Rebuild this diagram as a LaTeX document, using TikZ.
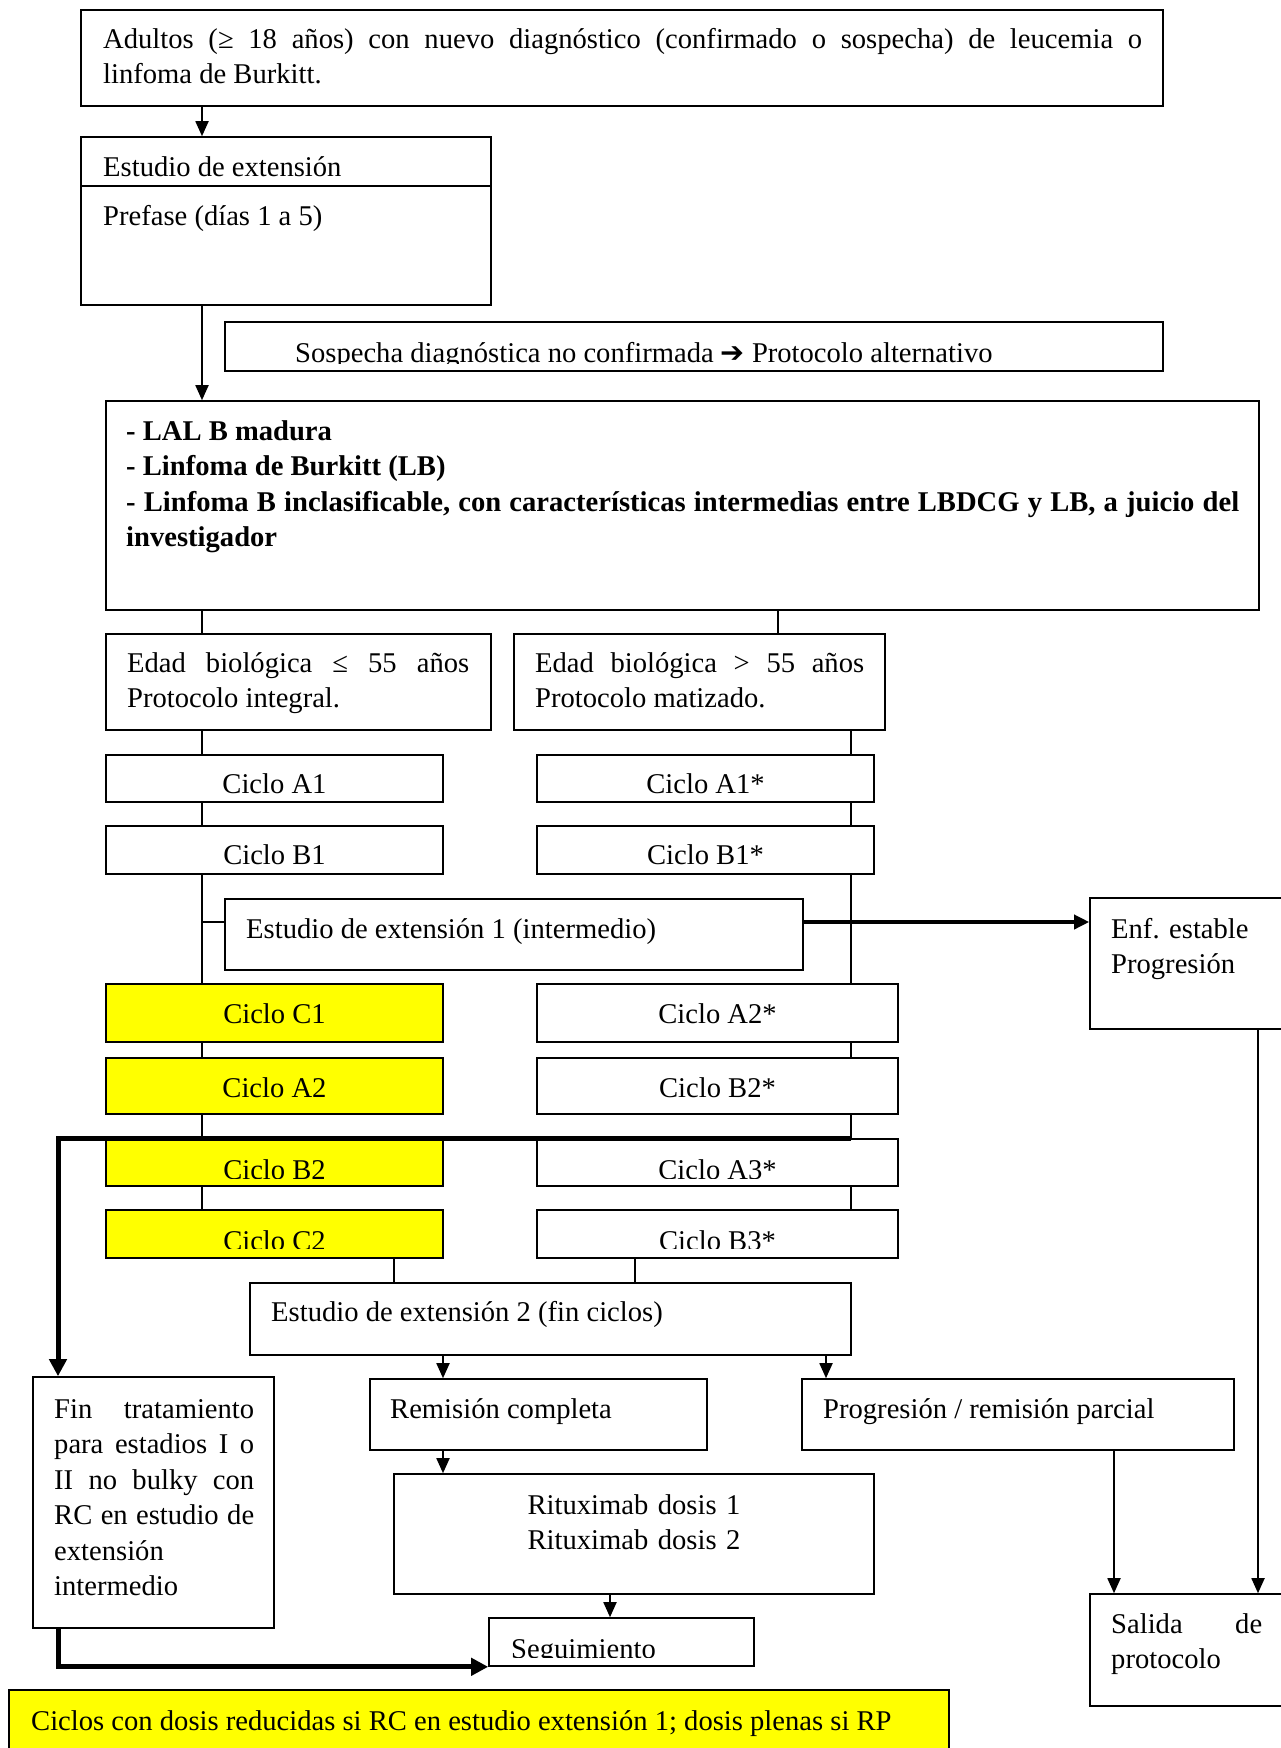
\documentclass[tikz,border=0pt]{standalone}
\usepackage{fontspec}
\setmainfont{Liberation Serif}
\newfontfamily\djv{DejaVu Sans}
\usetikzlibrary{arrows.meta,fit}
\definecolor{ylw}{RGB}{255,255,0}
\newcommand\myfs{\fontsize{28.6pt}{35.5pt}\selectfont\frenchspacing\hyphenpenalty=10000\exhyphenpenalty=10000\tolerance=9999}
\begin{document}
\begin{tikzpicture}[x=1pt,y=-1pt,
  box/.style={draw=black, line width=1.6pt, inner sep=0pt, rectangle},
  ybox/.style={box, fill=ylw},
  txt/.style={inner sep=0pt, font=\myfs, anchor=base west},
  ctxt/.style={inner sep=0pt, font=\myfs, anchor=base},
  conn/.style={line width=1.8pt},
  arr/.style={conn, -{Triangle[length=15pt,width=13pt]}},
  medarr/.style={line width=3.5pt, -{Triangle[length=15pt,width=14pt]}},
  tarr/.style={line width=5pt, -{Triangle[length=17pt,width=17pt]}}]
\path[use as bounding box] (0,0) rectangle (1281,1748);
\clip (0,0) rectangle (1281,1748);
\fill[white] (0,0) rectangle (1281,1748);

% ---------- boxes ----------
\node[box, fit={(81,10) (1163,106)}] (top) {};
\node[box, fit={(81,137) (491,305)}] (est) {};
\node[box, fit={(225,322) (1163,371)}] (sos) {};
\node[box, fit={(106,401) (1259,610)}] (lal) {};
\node[box, fit={(106,634) (491,730)}] (edA) {};
\node[box, fit={(514,634) (885,730)}] (edB) {};
\node[box, fit={(106,755) (443,802)}] (cA1) {};
\node[box, fit={(537,755) (874,802)}] (cA1s) {};
\node[box, fit={(106,826) (443,874)}] (cB1) {};
\node[box, fit={(537,826) (874,874)}] (cB1s) {};
\node[box, fit={(225,899) (803,970)}] (ext1) {};
\node[box, fit={(1090,898) (1300,1029)}] (enf) {};
\node[ybox, fit={(106,984) (443,1042)}] (cC1) {};
\node[box, fit={(537,984) (898,1042)}] (cA2s) {};
\node[ybox, fit={(106,1058) (443,1114)}] (cA2) {};
\node[box, fit={(537,1058) (898,1114)}] (cB2s) {};
\node[ybox, fit={(106,1140) (443,1186)}] (cB2) {};
\node[box, fit={(537,1139) (898,1186)}] (cA3s) {};
\node[ybox, fit={(106,1210) (443,1258)}] (cC2) {};
\node[box, fit={(537,1210) (898,1258)}] (cB3s) {};
\node[box, fit={(250,1283) (851,1355)}] (ext2) {};
\node[box, fit={(33,1377) (274,1628)}] (fin) {};
\node[box, fit={(370,1379) (707,1450)}] (rc) {};
\node[box, fit={(802,1379) (1234,1450)}] (prog) {};
\node[box, fit={(394,1474) (874,1594)}] (rit) {};
\node[box, fit={(489,1618) (754,1666)}] (seg) {};
\node[box, fit={(1090,1594) (1300,1706)}] (sal) {};
\node[ybox, fit={(9,1690) (949,1770)}] (note) {};
\draw[conn] (est.west |- 0,186) -- (est.east |- 0,186);

% ---------- connectors ----------
\draw[arr] (top.south -| 202,0) -- (est.north -| 202,0);
\draw[arr] (est.south -| 202,0) -- (lal.north -| 202,0);
\draw[conn] (lal.south -| 202,0) -- (edA.north -| 202,0);
\draw[conn] (lal.south -| 778,0) -- (edB.north -| 778,0);
\draw[conn] (edA.south -| 202,0) -- (cA1.north -| 202,0);
\draw[conn] (edB.south -| 851,0) -- (cA1s.north -| 851,0);
\draw[conn] (cA1.south -| 202,0) -- (cB1.north -| 202,0);
\draw[conn] (cA1s.south -| 851,0) -- (cB1s.north -| 851,0);
\draw[conn] (cB1.south -| 202,0) -- (cC1.north -| 202,0);
\coordinate (spur) at (202,922);
\draw[conn] (spur) -- (ext1.west |- spur);
\draw[conn] (cB1s.south -| 851,0) -- (cA2s.north -| 851,0);
\draw[medarr] (ext1.east |- spur) -- (enf.west |- spur);
\draw[conn] (cC1.south -| 202,0) -- (cA2.north -| 202,0);
\draw[conn] (cA2s.south -| 851,0) -- (cB2s.north -| 851,0);
\draw[conn] (cA2.south -| 202,0) -- (cB2.north -| 202,0);
\draw[conn] (cB2s.south -| 851,0) -- (cA3s.north -| 851,0);
\draw[conn] (cB2.south -| 202,0) -- (cC2.north -| 202,0);
\draw[conn] (cA3s.south -| 851,0) -- (cB3s.north -| 851,0);
\draw[conn] (cC2.south -| 394,0) -- (ext2.north -| 394,0);
\draw[conn] (cB3s.south -| 635,0) -- (ext2.north -| 635,0);
\draw[tarr] (851,1138.5) -- (58,1138.5) -- (fin.north -| 58,0);
\draw[arr] (ext2.south -| 443,0) -- (rc.north -| 443,0);
\draw[arr] (ext2.south -| 826,0) -- (prog.north -| 826,0);
\draw[arr] (rc.south -| 443,0) -- (rit.north -| 443,0);
\draw[arr] (rit.south -| 610,0) -- (seg.north -| 610,0);
\draw[tarr] (fin.south -| 58,0) |- (seg.south west);
\draw[arr] (prog.south -| 1114,0) -- (sal.north -| 1114,0);
\draw[arr] (enf.south -| 1258,0) -- (sal.north -| 1258,0);

% ---------- texts ----------
\node[txt, text width=1039pt, align=justify] (tTop) at (103,48) {Adultos (≥ 18 años) con nuevo diagnóstico (confirmado o sospecha) de leucemia o\linebreak linfoma de Burkitt.};
\node[txt] (tEst) at (103,176) {Estudio de extensión};
\node[txt] (tPre) at (103,225) {Prefase (días 1 a 5)};
\begin{scope}
\clip (sos.north west) rectangle (sos.east |- 0,363);
\node[txt] (tSos) at (295,362) {Sospecha diagnóstica no confirmada {\djv ➔} Protocolo alternativo};
\end{scope}
\node[txt, text width=1113pt, align=justify, font=\myfs\bfseries] (tLal) at (126,440) {- LAL B madura\\ - Linfoma de Burkitt (LB)\\ - Linfoma B inclasificable, con características intermedias entre LBDCG y LB, a juicio del\linebreak investigador};
\node[txt, text width=342pt, align=justify] (tEdA) at (127,672) {Edad biológica ≤ 55 años\linebreak Protocolo integral.};
\node[txt, text width=329pt, align=justify] (tEdB) at (535,672) {Edad biológica > 55 años\linebreak Protocolo matizado.};
\node[ctxt] (tA1) at (274.5,793) {Ciclo A1};
\node[ctxt] (tA1s) at (705.5,793) {Ciclo A1*};
\node[ctxt] (tB1) at (274.5,864) {Ciclo B1};
\node[ctxt] (tB1s) at (705.5,864) {Ciclo B1*};
\node[txt] (tExt1) at (246,938) {Estudio de extensión 1 (intermedio)};
\node[txt, text width=165pt, align=left] (tEnf) at (1111,938) {Enf. estable\\Progresión};
\node[ctxt] (tC1) at (274.5,1023) {Ciclo C1};
\node[ctxt] (tA2s) at (717.5,1023) {Ciclo A2*};
\node[ctxt] (tA2) at (274.5,1097) {Ciclo A2};
\node[ctxt] (tB2s) at (717.5,1097) {Ciclo B2*};
\begin{scope}
\clip (cB2.north west) rectangle (cB2.east |- 0,1178);
\node[ctxt] (tB2) at (274.5,1179) {Ciclo B2};
\end{scope}
\begin{scope}
\clip (cA3s.north west) rectangle (cA3s.east |- 0,1178);
\node[ctxt] (tA3s) at (717.5,1179) {Ciclo A3*};
\end{scope}
\begin{scope}
\clip (cC2.north west) rectangle (cC2.east |- 0,1248);
\node[ctxt] (tC2) at (274.5,1250) {Ciclo C2};
\end{scope}
\begin{scope}
\clip (cB3s.north west) rectangle (cB3s.east |- 0,1248);
\node[ctxt] (tB3s) at (717.5,1250) {Ciclo B3*};
\end{scope}
\node[txt] (tExt2) at (271,1321) {Estudio de extensión 2 (fin ciclos)};
\node[txt, text width=200pt, align=justify] (tFin) at (54,1418) {Fin tratamiento\linebreak para estadios I o\linebreak II no bulky con\linebreak RC en estudio de\linebreak extensión\linebreak intermedio};
\node[txt] (tRc) at (390,1418) {Remisión completa};
\node[txt] (tProg) at (823,1418) {Progresión / remisión parcial};
\node[ctxt, text width=320pt, align=center] (tRit) at (634,1514) {Rituximab dosis 1\\Rituximab dosis 2};
\begin{scope}
\clip (seg.north west) rectangle (seg.east |- 0,1657);
\node[txt] (tSeg) at (511,1658) {Seguimiento};
\end{scope}
\node[txt, text width=151pt, align=justify] (tSal) at (1111,1633) {Salida de\linebreak protocolo};
\node[txt] (tNote) at (31,1730) {Ciclos con dosis reducidas si RC en estudio extensión 1; dosis plenas si RP};
\end{tikzpicture}
\end{document}
